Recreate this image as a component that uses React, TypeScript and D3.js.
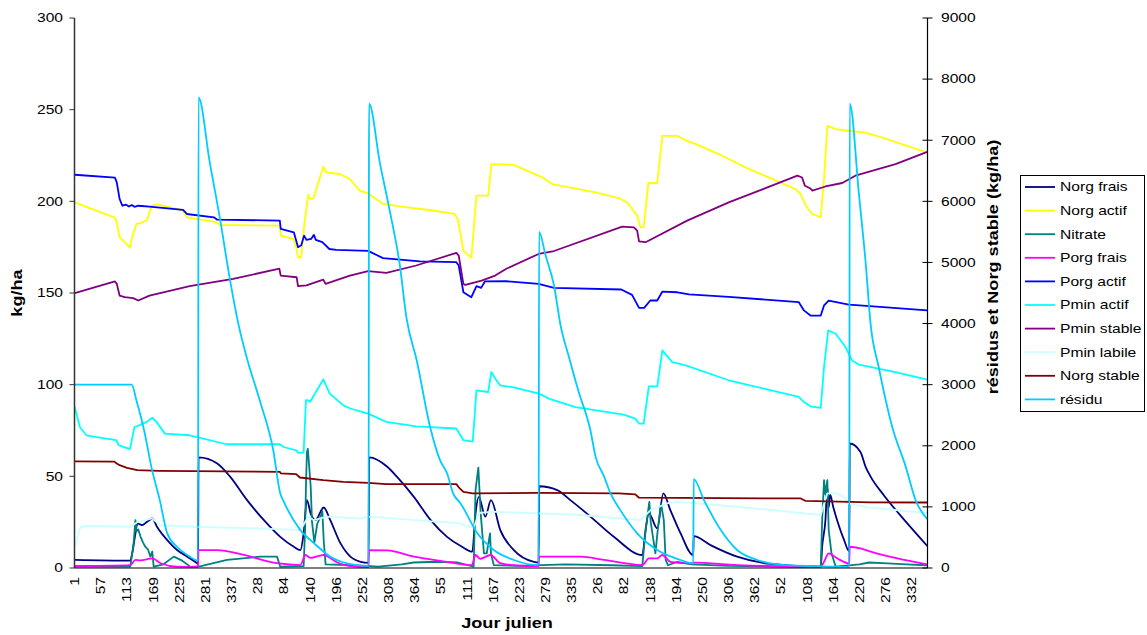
import React from "react";
import * as d3 from "d3";

// ---------- DATA ----------
// x = sequential day index (0 = day 1 of first year), over 5 years
const N_DAYS = 1826;
const TICK_STEP = 56;
const xTickLabels = ["1","57","113","169","225","281","337","28","84","140","196","252","308","364","55","111","167","223","279","335","26","82","138","194","250","306","362","52","108","164","220","276","332"];
const leftTicks = [0, 50, 100, 150, 200, 250, 300];
const rightTicks = [0, 1000, 2000, 3000, 4000, 5000, 6000, 7000, 8000, 9000];

type P = [number, number];

const norgFrais: P[] = [[0,4.4],[119,4],[123,8],[130,18.9],[134,24.3],[144,23.4],[155,25.2],[166,27],[176,22.5],[198,15.2],[219,9.8],[241,6.2],[262,2.6],[264,2.2],[265,60.3],[305,57],[333,49.7],[369,37],[405,26.1],[440,17],[469,11.6],[483,9.8],[490,18.9],[497,37],[505,29.8],[515,26.1],[533,33],[547,26.1],[569,13.4],[590,6.2],[612,3.4],[629,2.8],[630,60.3],[669,55.2],[690,49.7],[726,38.8],[762,26.1],[797,17],[829,11.6],[851,8.9],[858,29.8],[865,38.8],[879,28],[891,37],[911,20.7],[940,9.8],[983,3.4],[993,3],[994,44.6],[1033,42.5],[1061,37],[1083,32.5],[1104,28],[1154,17],[1215,7.1],[1222,20.7],[1229,29.8],[1247,21.6],[1260,40.7],[1275,31.6],[1297,18.9],[1324,7],[1325,17.4],[1361,12.5],[1418,6.2],[1490,2.2],[1597,0.7],[1600,11.6],[1607,26.1],[1611,44.3],[1614,33],[1617,40],[1624,33],[1632,26.1],[1647,15.2],[1658,9],[1659,67.9],[1682,63.3],[1693,55.2],[1704,49.7],[1732,39.7],[1780,25],[1825,12]];

const norgActif: P[] = [[0,199.4],[86,191.1],[90,188.6],[96,180.4],[107,177.7],[118,174.8],[122,179.5],[132,187.7],[140,188],[148,189],[154,189.5],[165,197.6],[177,198.3],[232,195],[240,191.3],[303,188.6],[311,187.1],[439,186.7],[441,181.3],[468,179.5],[474,175],[478,169.5],[485,169.5],[492,188.6],[500,203.6],[504,201.3],[511,201.6],[532,218.9],[539,215.8],[567,214.9],[589,212.2],[610,205.8],[628,204.4],[660,198.6],[700,197.1],[767,195],[813,193.1],[820,190.4],[832,173.1],[849,169.2],[860,203.1],[885,203.1],[892,220.3],[940,219.9],[1001,213.1],[1022,209.4],[1115,204.9],[1165,201.8],[1183,199.4],[1193,195.8],[1204,192.2],[1211,185.8],[1218,185.8],[1228,210],[1247,210],[1258,235.7],[1290,235.7],[1311,233],[1330,231.2],[1386,224.9],[1436,218.5],[1543,206.7],[1554,204],[1565,197.6],[1579,193.1],[1597,191.3],[1604,212.2],[1611,241.2],[1629,239.4],[1657,238.5],[1690,237.6],[1729,234.8],[1825,226.6]];

const nitrate: P[] = [[0,0.7],[119,0.7],[126,13.4],[130,26.1],[132,20],[136,21],[141,17],[146,14],[151,11.6],[157,10],[162,6.2],[166,9],[169,0.7],[190,2],[212,6.2],[230,4],[248,0.6],[270,1],[326,4.4],[397,6.2],[433,6.2],[440,0.7],[490,1],[493,20],[495,45],[497,63],[499,65],[502,55],[505,45],[508,25],[513,14],[519,24],[526,28],[530,31],[533,15],[537,2],[600,1.5],[650,0.8],[700,2],[725,3],[776,3.4],[820,3],[854,0.8],[858,42.5],[864,54.8],[869,29.8],[876,8],[882,8],[889,18.9],[891,8],[897,1.6],[950,1.2],[1050,2],[1150,1.5],[1215,1],[1222,20.7],[1230,36.1],[1233,25],[1243,8],[1248,20.7],[1255,35.2],[1261,26.1],[1265,4.4],[1270,1.5],[1290,3.4],[1320,2],[1400,1.2],[1500,0.8],[1597,0.5],[1600,26.1],[1604,47.9],[1607,40],[1611,47.9],[1614,20.7],[1620,8],[1629,0.7],[1680,2],[1700,3],[1740,2.5],[1780,2],[1825,1.5]];

const porgFrais: P[] = [[0,1.1],[119,1.6],[130,4.4],[141,4.2],[166,5.3],[184,2.6],[219,0.7],[264,0.5],[265,9.8],[305,9.8],[362,7.1],[433,2.6],[483,1.6],[494,7.1],[505,5.5],[533,7.1],[562,3],[590,1],[629,0.5],[630,9.8],[669,9.6],[726,6.2],[797,3.4],[850,1.5],[858,7.1],[868,5],[890,7.1],[911,2.6],[940,1.5],[993,1],[994,6.2],[1083,6.2],[1133,4.4],[1215,1.6],[1229,5.3],[1247,5.3],[1258,7.1],[1275,3.4],[1318,2.5],[1325,2.9],[1418,1.6],[1597,0.7],[1604,3.4],[1614,8],[1632,5.3],[1658,2.5],[1659,11.6],[1682,10.7],[1704,8.9],[1825,2]];

const porgActif: P[] = [[0,214.5],[86,212.9],[90,210.3],[96,201.3],[102,197.6],[110,198.2],[116,197.2],[122,198],[128,197],[136,197.6],[160,197.1],[232,195.3],[240,193.1],[298,191.3],[305,190],[439,189.5],[441,185],[469,183.1],[478,175],[485,176],[491,181.3],[496,179],[506,179.5],[512,181.7],[516,179],[530,177.7],[545,174],[560,173.5],[628,173],[660,169],[739,167.3],[817,166.8],[822,165],[832,150.4],[849,147.7],[860,153.7],[870,152.8],[878,156.3],[924,156.4],[993,155],[1026,152.8],[1170,151.9],[1193,149],[1208,141.9],[1219,141.9],[1232,145.9],[1247,145.9],[1258,150.8],[1290,150.4],[1315,149.2],[1400,147.9],[1550,145],[1561,140.5],[1575,137.7],[1597,137.7],[1604,143.2],[1614,145.9],[1657,143.7],[1680,143.2],[1825,140.5]];

const pminActif: P[] = [[0,87.8],[11,76.9],[25,72.4],[54,71.1],[89,69.7],[94,67],[118,64.8],[128,76.9],[139,77.9],[154,79.7],[166,82],[175,79.7],[193,73.3],[246,72.4],[325,67.5],[439,67.5],[447,66],[475,64.2],[478,62.8],[490,63],[495,91.5],[499,91.5],[504,90.7],[532,102.9],[546,95.1],[575,88.7],[590,87],[628,84.2],[667,79.7],[731,77.3],[817,76.1],[832,69.7],[852,68.9],[860,96.9],[885,96],[892,106.9],[901,103],[911,99.6],[940,98.5],[994,95.1],[1015,92.4],[1072,87.8],[1175,83.7],[1200,81.5],[1208,78.8],[1218,78.8],[1229,99.1],[1247,99.1],[1258,118.7],[1279,112.3],[1308,110.5],[1400,102.4],[1550,93.3],[1561,90.5],[1575,88.2],[1597,87.3],[1604,109.6],[1613,129.6],[1629,127.8],[1650,120.5],[1664,113.2],[1679,110.9],[1757,106.9],[1825,102.7]];

const pminStable: P[] = [[0,149.9],[86,156.3],[90,155],[96,148.6],[107,147.7],[125,147.2],[136,145.9],[160,148.6],[246,153.7],[339,157.7],[438,163.3],[441,159.5],[475,158.6],[478,153.7],[496,154.2],[532,157.3],[537,155],[589,159.5],[628,161.9],[667,161],[731,165],[817,171.9],[822,170.4],[832,155],[836,154.4],[871,156.8],[900,159.5],[924,163.2],[993,171.3],[1026,172.9],[1172,186.2],[1197,185.8],[1204,184],[1208,178.2],[1222,177.7],[1311,189.5],[1400,199.4],[1547,214],[1557,213],[1563,208.5],[1575,207],[1579,205.8],[1607,208.1],[1643,210],[1671,214],[1757,220.3],[1825,227]];

const pminLabile: P[] = [[0,11.6],[11,21.6],[19,22.9],[119,22.5],[134,25],[166,27],[183,23.4],[255,22.5],[398,21.6],[483,20.7],[500,28],[512,26.1],[540,28],[611,27],[630,28],[726,26.1],[826,24.3],[840,22.5],[855,22.5],[865,30],[897,30.7],[1082,28.9],[1211,26.1],[1233,31.6],[1268,35.2],[1290,36.1],[1418,33.4],[1597,28.9],[1611,40.7],[1632,40.7],[1650,38],[1654,35.2],[1700,33],[1825,30]];

const norgStable: P[] = [[0,1745],[85,1740],[90,1710],[96,1682],[112,1639],[134,1601],[180,1590],[255,1584],[439,1574],[441,1550],[474,1535],[482,1481],[532,1437],[575,1410],[628,1394],[667,1372],[817,1372],[822,1320],[832,1247],[852,1220],[993,1230],[1165,1220],[1200,1205],[1208,1150],[1554,1138],[1564,1100],[1704,1075],[1825,1072]];

const residu: P[] = [[0,3000],[122,3000],[132,2744],[150,2200],[164,1655],[182,1111],[198,567],[219,348],[241,212],[264,120],[265,7700],[289,6638],[311,5712],[332,4732],[351,3970],[368,3450],[396,2744],[425,1927],[440,1220],[446,1111],[483,620],[512,408],[547,185],[583,76],[629,30],[630,7600],[653,6638],[675,5821],[696,4950],[710,4100],[732,3400],[761,2300],[782,1764],[797,1550],[810,1220],[826,1057],[862,567],[897,294],[940,131],[993,45],[994,5500],[1008,5112],[1026,4623],[1040,3970],[1058,3452],[1078,2900],[1104,2250],[1115,1818],[1133,1500],[1147,1220],[1168,947],[1204,567],[1247,294],[1297,131],[1324,76],[1325,1455],[1347,1111],[1383,620],[1418,294],[1461,131],[1504,60],[1580,30],[1658,20],[1659,7600],[1679,6093],[1693,5003],[1704,3970],[1721,3289],[1750,2308],[1779,1655],[1800,1111],[1825,800]];

const seriesNames = ["Norg frais","Norg actif","Nitrate","Porg frais","Porg actif","Pmin actif","Pmin stable","Pmin labile","Norg stable","résidu"];
const seriesColors = ["#000080","#FFFF00","#008080","#FF00FF","#0000FF","#00FFFF","#800080","#CCFFFF","#800000","#00CCFF"];
const seriesData = [norgFrais, norgActif, nitrate, porgFrais, porgActif, pminActif, pminStable, pminLabile, norgStable, residu];
const seriesAxis = ["L","L","L","L","L","L","L","L","R","R"];
const seriesSmooth = [true,false,false,true,false,false,false,false,false,true];

// ---------- LAYOUT ----------
const W = 1147, H = 635;
const X0 = 74.5, X1 = 927.5, YT = 18, YB = 568;
const FONT = "'Liberation Sans', Arial, sans-serif";
const SX = 1.25;

export default function App() {
  const x = d3.scaleLinear().domain([-0.5, N_DAYS - 0.5]).range([X0, X1]);
  const yL = d3.scaleLinear().domain([0, 300]).range([YB, YT]);
  const yR = d3.scaleLinear().domain([0, 9000]).range([YB, YT]);

  const order = [0,1,2,3,4,5,6,7,8,9];
  const legendY0 = 187, legendDY = 23.6;

  return (
    <svg width={W} height={H} style={{ position: "absolute", left: 0, top: 0, background: "#fff" }} fontFamily={FONT}>
      <rect x={0} y={0} width={W} height={H} fill="#fff" />
      {order.map((i) => {
        const ys = seriesAxis[i] === "L" ? yL : yR;
        const line = d3.line<P>().x((d) => x(d[0])).y((d) => ys(d[1]))
          .curve(seriesSmooth[i] ? d3.curveMonotoneX : d3.curveLinear);
        return (
          <path key={i} d={line(seriesData[i]) || ""} fill="none" stroke={seriesColors[i]} strokeWidth={1.8} strokeLinejoin="round" />
        );
      })}
      <line x1={X0} x2={X0} y1={YT} y2={YB} stroke="#333" strokeWidth={1.5} />
      <line x1={X1} x2={X1} y1={YT} y2={YB} stroke="#000" strokeWidth={1.2} />
      <line x1={X0} x2={X1} y1={YB} y2={YB} stroke="#000" strokeWidth={1.2} />
      {leftTicks.map((t) => (
        <g key={"l" + t}>
          <line x1={X0 - 5} x2={X0} y1={yL(t)} y2={yL(t)} stroke="#333" strokeWidth={1} />
          <text transform={`translate(63,${yL(t)}) scale(${SX},1)`} textAnchor="end" dy="0.35em" fontSize={12.5}>{t}</text>
        </g>
      ))}
      {rightTicks.map((t) => (
        <g key={"r" + t}>
          <line x1={X1 - 5} x2={X1 + 5} y1={yR(t)} y2={yR(t)} stroke="#000" strokeWidth={1} />
          <text transform={`translate(941,${yR(t)}) scale(${SX},1)`} textAnchor="start" dy="0.35em" fontSize={12.5}>{t}</text>
        </g>
      ))}
      {xTickLabels.map((lab, k) => (
        <text key={"x" + k} transform={`translate(${x(k * TICK_STEP)},577) rotate(-90) scale(${SX},1)`} textAnchor="end" dy="0.35em" fontSize={12.5}>{lab}</text>
      ))}
      <text transform={`translate(507,628) scale(${SX},1)`} textAnchor="middle" fontSize={14.5} fontWeight="bold">Jour julien</text>
      <text transform={`translate(22,293) rotate(-90) scale(${SX},1)`} textAnchor="middle" fontSize={14.5} fontWeight="bold">kg/ha</text>
      <text transform={`translate(998,267) rotate(-90) scale(${SX},1)`} textAnchor="middle" fontSize={14.5} fontWeight="bold">résidus et Norg stable (kg/ha)</text>
      <rect x={1020.5} y={175.5} width={124} height={236} fill="#fff" stroke="#000" strokeWidth={1} />
      {seriesNames.map((n, i) => (
        <g key={"lg" + i}>
          <line x1={1025} x2={1055} y1={legendY0 + i * legendDY} y2={legendY0 + i * legendDY} stroke={seriesColors[i]} strokeWidth={1.8} />
          <text transform={`translate(1060,${legendY0 + i * legendDY}) scale(${SX},1)`} dy="0.35em" fontSize={12.5}>{n}</text>
        </g>
      ))}
    </svg>
  );
}
